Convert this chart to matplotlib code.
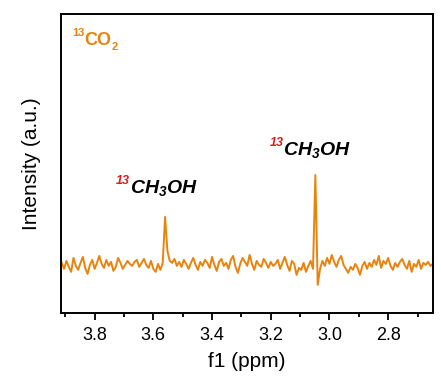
import numpy as np
import matplotlib.pyplot as plt

# 13C NMR-style spectrum (height in px above the bottom frame)
ppm = np.arange(3.912, 2.647, -0.008)
intensity = [50, 44, 52, 46, 41, 55, 47, 43, 50, 56,
             45, 39, 48, 53, 44, 50, 57, 49, 45, 53,
             47, 51, 42, 46, 55, 50, 44, 48, 52, 49,
             47, 51, 53, 46, 50, 54, 48, 45, 52, 44,
             41, 49, 43, 50,
             96, 62,
             52, 50, 54, 47, 51, 46, 53, 49, 44, 50,
             55, 48, 43, 51, 47, 53, 50, 45, 56, 48,
             42, 51, 54, 47, 50, 44, 53, 57, 46, 40,
             49, 55, 51, 47, 58, 49, 43, 52, 48, 46,
             54, 50, 45, 51, 47, 49, 53, 44, 50, 56,
             48, 42, 52, 49, 38, 45, 43, 50, 41, 47,
             52, 44,
             138, 28, 44,
             52, 47, 55, 49, 58, 51, 46, 53, 57, 48,
             44, 40, 46, 43, 49, 45, 38, 47, 51, 44,
             50, 46, 53, 48, 57, 45, 52, 49, 55, 47,
             43, 50, 46, 51, 54, 48, 44, 52, 41, 49,
             46, 53, 44, 50, 48, 51, 47, 49]
xticks = [3.8, 3.6, 3.4, 3.2, 3.0, 2.8]
xlabels = ["3.8", "3.6", "3.4", "3.2", "3.0", "2.8"]

plt.rcParams['font.family'] = ['Liberation Sans', 'DejaVu Sans']
plt.rcParams['mathtext.fontset'] = 'custom'
plt.rcParams['mathtext.rm'] = 'Liberation Sans:italic:bold'
plt.rcParams['mathtext.it'] = 'Liberation Sans:italic:bold'
plt.rcParams['mathtext.bf'] = 'Liberation Sans:italic:bold'

orange = '#E8840E'

fig = plt.figure(figsize=(4.41, 3.82), dpi=100)
ax = fig.add_axes([0.138, 0.181, 0.844, 0.782])
ax.plot(ppm[:len(intensity)], intensity, color=orange, lw=1.4)

ax.set_xlim(3.915, 2.647)
ax.set_ylim(0, 299)
ax.set_xticks(xticks)
ax.set_xticklabels(xlabels)
ax.set_xticks([3.9, 3.7, 3.5, 3.3, 3.1, 2.9, 2.7], minor=True)
ax.set_yticks([])
ax.tick_params(axis='x', which='major', direction='out', length=5, width=1.3, labelsize=13, pad=5)
ax.tick_params(axis='x', which='minor', direction='out', length=3, width=1.3)
for s in ax.spines.values():
    s.set_linewidth(1.4)

ax.set_xlabel("f1 (ppm)", fontsize=15, labelpad=6)
ax.set_ylabel("Intensity (a.u.)", fontsize=15, labelpad=14)

# peak labels
ax.text(0.185, 0.418, "CH$_3$OH", transform=ax.transAxes, fontsize=14,
        style='italic', weight='bold', ha='left', va='center', color='black')
ax.text(0.186, 0.442, "13", transform=ax.transAxes, fontsize=9,
        style='italic', weight='bold', ha='right', va='center', color='#D42020')
ax.text(0.597, 0.545, "CH$_3$OH", transform=ax.transAxes, fontsize=14,
        style='italic', weight='bold', ha='left', va='center', color='black')
ax.text(0.598, 0.569, "13", transform=ax.transAxes, fontsize=9,
        style='italic', weight='bold', ha='right', va='center', color='#D42020')

# 13CO2 tag
ax.text(0.030, 0.938, "13", transform=ax.transAxes, fontsize=8,
        weight='bold', ha='left', va='center', color=orange)
ax.text(0.064, 0.912, "CO", transform=ax.transAxes, fontsize=13,
        weight='bold', ha='left', va='center', color=orange)
ax.text(0.137, 0.890, "2", transform=ax.transAxes, fontsize=8,
        weight='bold', ha='left', va='center', color=orange)

fig.savefig("out.png", dpi=100)
